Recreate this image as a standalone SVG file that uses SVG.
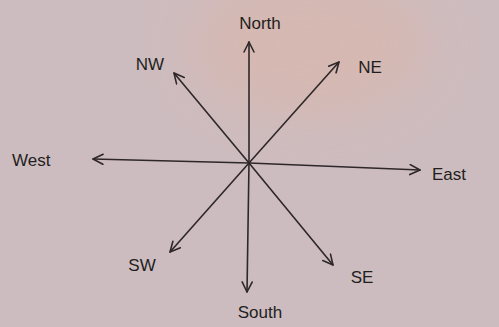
<svg xmlns="http://www.w3.org/2000/svg" width="499" height="327" viewBox="0 0 499 327">
<defs>
<style>
.lbl{font-family:"Liberation Sans",Arial,sans-serif;font-size:17px;fill:#221e20}
.ln{stroke:#2e2729;stroke-width:1.6;fill:none;stroke-linecap:round}
</style>
<marker id="ah" viewBox="0 0 12 12" refX="11" refY="6" markerWidth="12" markerHeight="12" markerUnits="userSpaceOnUse" orient="auto">
<path d="M1,1 L11,6 L1,11" fill="none" stroke="#2e2729" stroke-width="1.6" stroke-linecap="round" stroke-linejoin="round"/>
</marker>
<filter id="bl" x="-50%" y="-50%" width="200%" height="200%"><feGaussianBlur stdDeviation="30"/></filter>
</defs>
<rect width="499" height="327" fill="#cdbcbf"/>
<ellipse cx="310" cy="45" rx="120" ry="70" fill="#d8b7ad" opacity="0.8" filter="url(#bl)"/>
<g id="connectors">
<line class="ln" x1="249" y1="163" x2="249" y2="42" marker-end="url(#ah)"/>
<line class="ln" x1="249" y1="163" x2="247" y2="292" marker-end="url(#ah)"/>
<line class="ln" x1="249" y1="163" x2="93" y2="159" marker-end="url(#ah)"/>
<line class="ln" x1="249" y1="163" x2="420" y2="170" marker-end="url(#ah)"/>
<line class="ln" x1="249" y1="163" x2="339" y2="62" marker-end="url(#ah)"/>
<line class="ln" x1="249" y1="163" x2="174" y2="73" marker-end="url(#ah)"/>
<line class="ln" x1="249" y1="163" x2="170" y2="252" marker-end="url(#ah)"/>
<line class="ln" x1="249" y1="163" x2="333" y2="265" marker-end="url(#ah)"/>
</g>
<g id="north"><text class="lbl" x="260" y="29" text-anchor="middle">North</text></g>
<g id="nw"><text class="lbl" x="150" y="70" text-anchor="middle">NW</text></g>
<g id="ne"><text class="lbl" x="370" y="73" text-anchor="middle">NE</text></g>
<g id="west"><text class="lbl" x="12" y="166">West</text></g>
<g id="east"><text class="lbl" x="432" y="180">East</text></g>
<g id="sw"><text class="lbl" x="142" y="271" text-anchor="middle">SW</text></g>
<g id="se"><text class="lbl" x="362" y="283" text-anchor="middle">SE</text></g>
<g id="south"><text class="lbl" x="260" y="318" text-anchor="middle">South</text></g>
</svg>
